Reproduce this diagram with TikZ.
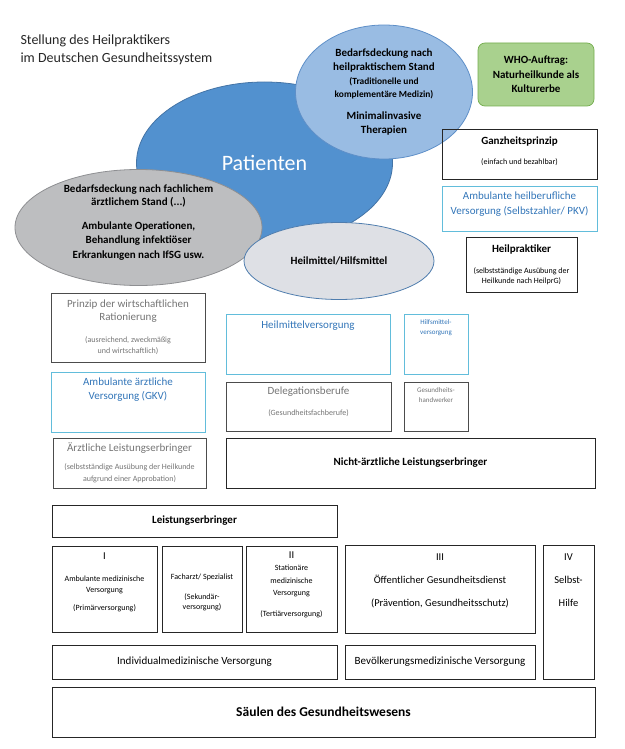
\documentclass[tikz,border=0pt]{standalone}
\usepackage{fontspec}
\setmainfont{Carlito}
\usepackage{xcolor}
\usepackage{tikz}
\usetikzlibrary{shapes.geometric, positioning}

\definecolor{patblue}{HTML}{5291CF}
\definecolor{patline}{HTML}{4474A6}
\definecolor{hpblue}{HTML}{99BCE3}
\definecolor{hpline}{HTML}{5E8FC8}
\definecolor{aegray}{HTML}{BDBEC0}
\definecolor{aeline}{HTML}{8E8F92}
\definecolor{hmgray}{HTML}{DEE0E5}
\definecolor{hmline}{HTML}{4F7DAE}
\definecolor{whogreen}{HTML}{A9D18E}
\definecolor{wholine}{HTML}{74AD4E}
\definecolor{cyanline}{HTML}{62BDDB}
\definecolor{bluetext}{HTML}{3275B8}
\definecolor{graytext}{HTML}{747474}

\begin{document}
\begin{tikzpicture}[
			x=1pt, y=-1pt,
			frame/.style = {rectangle, draw=black!85, line width=0.7pt,
					inner sep=0pt, align=center, font=\fontsize{11}{13.5}\selectfont},
			grayframe/.style = {frame, draw=black!70, text=graytext},
			cyanframe/.style = {frame, draw=cyanline, line width=0.9pt, text=bluetext},
			blob/.style = {ellipse, inner sep=0pt, align=center, line width=0.8pt},
		]
		\useasboundingbox (0,0) rectangle (624,749);

		% Title
		\node [anchor=west, align=left, font=\fontsize{14}{18}\selectfont, text=black!85] (title) at (17,50)
			{Stellung des Heilpraktikers\\im Deutschen Gesundheitssystem};

		% Ellipses
		\node [blob, fill=patblue, draw=patline, minimum width=256, minimum height=162,
			text=white, font=\fontsize{22}{26}\selectfont] (patienten) at (264.5,163) {Patienten};
		\node [blob, fill=hpblue, draw=hpline, minimum width=177, minimum height=134,
			font=\bfseries\fontsize{11}{14}\selectfont] (heilprakstand) at (384,92)
			{Bedarfsdeckung nach\\heilpraktischem Stand\\
			{\fontsize{9.4}{13}\selectfont (Traditionelle und}\\[-0.5pt]
			{\fontsize{9.4}{12}\selectfont komplementäre Medizin)}\\[8pt]
			Minimalinvasive\\[-0.5pt]Therapien};
		\node [blob, fill=aegray, draw=aeline, minimum width=247, minimum height=116,
			inner ysep=-5pt, text depth=12.5pt,
			font=\bfseries\fontsize{11}{13.5}\selectfont] (aerztstand) at (138.5,227.5)
			{Bedarfsdeckung nach fachlichem\\ärztlichem Stand (...)\\[10.5pt]
			Ambulante Operationen,\\Behandlung infektiöser\\[1.5pt]Erkrankungen nach IfSG usw.};
		\node [blob, fill=hmgray, draw=hmline, minimum width=190, minimum height=77,
			font=\bfseries\fontsize{11}{13}\selectfont] (heilmittel) at (339,261)
			{Heilmittel/Hilfsmittel};

		% Right column
		\node [frame, rounded corners=7pt, fill=whogreen, draw=wholine, minimum width=116, minimum height=63,
			font=\bfseries\fontsize{11}{14.5}\selectfont] (who) at (536,74.5)
			{WHO-Auftrag:\\Naturheilkunde als\\Kulturerbe};
		\node [frame, minimum width=155, minimum height=50, text depth=6.5pt] (ganzheit) at (519.5,154)
			{\bfseries Ganzheitsprinzip\\[6.5pt]{\fontsize{8}{9}\selectfont (einfach und bezahlbar)}};
		\node [cyanframe, minimum width=155, minimum height=45, text depth=10pt,
			font=\fontsize{11}{15}\selectfont] (ambheil) at (519.5,208.5)
			{Ambulante heilberufliche\\Versorgung (Selbstzahler/ PKV)};
		\node [frame, minimum width=111, minimum height=55] (heilpraktiker) at (521.5,264.5)
			{\bfseries Heilpraktiker\\[7.5pt]
			{\fontsize{8}{10}\selectfont (selbstständige Ausübung der}\\[-3.5pt]
			{\fontsize{8}{10}\selectfont Heilkunde nach HeilprG)}};

		% Left column
		\node [grayframe, minimum width=154, minimum height=69,
			font=\fontsize{11}{13}\selectfont] (rationierung) at (128,327.5)
			{Prinzip der wirtschaftlichen\\Rationierung\\[9pt]
			{\fontsize{8}{10}\selectfont (ausreichend, zweckmäßig}\\[-2pt]
			{\fontsize{8}{10}\selectfont und wirtschaftlich)}};
		\node [cyanframe, minimum width=154, minimum height=60, text depth=26.5pt,
			font=\fontsize{11}{14}\selectfont] (ambarzt) at (128,402)
			{Ambulante ärztliche\\Versorgung (GKV)};
		\node [grayframe, minimum width=153, minimum height=50,
			font=\fontsize{11}{13}\selectfont] (aerztlich) at (129.5,463)
			{Ärztliche Leistungserbringer\\[5pt]
			{\fontsize{8}{10}\selectfont (selbstständige Ausübung der Heilkunde}\\[-1pt]
			{\fontsize{8}{10}\selectfont aufgrund einer Approbation)}};

		% Middle column
		\node [cyanframe, minimum width=164, minimum height=60, text depth=39pt] (heilmittelv) at (308,344)
			{Heilmittelversorgung};
		\node [cyanframe, minimum width=64, minimum height=60, text depth=33.5pt,
			font=\fontsize{7}{10}\selectfont] (hilfsmittelv) at (436,344) {Hilfsmittel-\\versorgung};
		\node [grayframe, minimum width=165, minimum height=49, text depth=10pt,
			font=\fontsize{11}{13}\selectfont] (delegation) at (308.5,406.5)
			{Delegationsberufe\\[8pt]{\fontsize{8}{10}\selectfont (Gesundheitsfachberufe)}};
		\node [grayframe, minimum width=64, minimum height=49, text depth=22.5pt,
			font=\fontsize{7}{10}\selectfont] (handwerker) at (436,406.5) {Gesundheits-\\handwerker};
		\node [frame, minimum width=369, minimum height=50,
			font=\bfseries\fontsize{11}{13}\selectfont] (nichtarzt) at (410.5,463)
			{Nicht-ärztliche Leistungserbringer};

		% Pillars
		\node [frame, minimum width=285, minimum height=32,
			font=\bfseries\fontsize{11}{13}\selectfont] (leistung) at (194.5,521) {Leistungserbringer};
		\node [frame, minimum width=105, minimum height=86, text depth=15pt,
			font=\fontsize{8}{11}\selectfont] (primaer) at (104.5,589)
			{{\fontsize{10.5}{11}\selectfont I}\\[11pt]Ambulante medizinische\\Versorgung\\[7pt](Primärversorgung)};
		\node [frame, minimum width=80, minimum height=86, text height=42pt,
			font=\fontsize{8}{10}\selectfont] (sekundaer) at (202,589)
			{Facharzt/ Spezialist\\[10pt](Sekundär-\\versorgung)};
		\node [frame, minimum width=91, minimum height=86, text depth=9.5pt,
			font=\fontsize{8}{12.5}\selectfont] (tertiaer) at (291.5,589)
			{{\fontsize{10.5}{11}\selectfont II}\\Stationäre\\medizinische\\Versorgung\\[8.5pt](Tertiärversorgung)};
		\node [frame, minimum width=190, minimum height=88, text depth=18.5pt,
			font=\fontsize{10.5}{23}\selectfont] (oegd) at (440,589)
			{III\\Öffentlicher Gesundheitsdienst\\(Prävention, Gesundheitsschutz)};
		\node [frame, minimum width=51, minimum height=134, text depth=64pt,
			font=\fontsize{10.5}{23}\selectfont] (selbsthilfe) at (568.5,612)
			{IV\\Selbst-\\Hilfe};
		\node [frame, minimum width=285, minimum height=34] (individual) at (194.5,662)
			{Individualmedizinische Versorgung};
		\node [frame, minimum width=190, minimum height=34] (bevoelkerung) at (440,662)
			{Bevölkerungsmedizinische Versorgung};
		\node [frame, minimum width=543, minimum height=50,
			font=\bfseries\fontsize{13.5}{16}\selectfont] (saeulen) at (323.5,712)
			{Säulen des Gesundheitswesens};

	\end{tikzpicture}
\end{document}
